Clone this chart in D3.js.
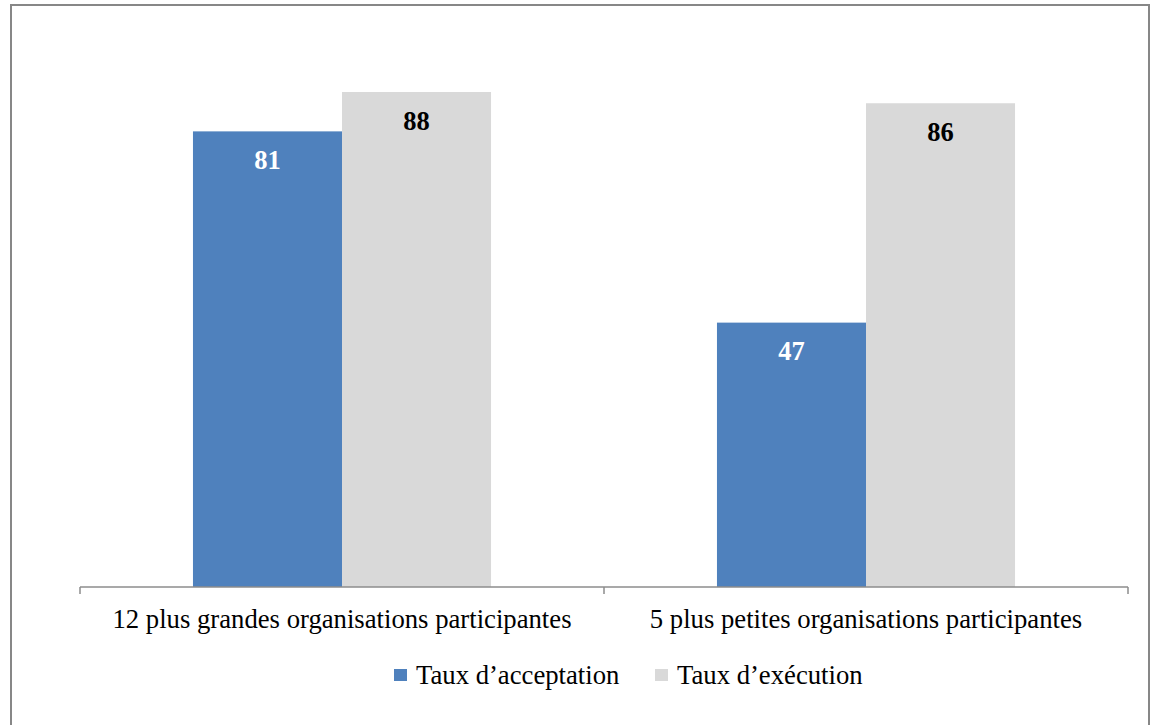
<!DOCTYPE html>
<html>
<head>
<meta charset="utf-8">
<script src="https://cdn.jsdelivr.net/npm/d3@7"></script>
<style>
  body { margin: 0; background: #fff; }
  svg { display: block; }
</style>
</head>
<body>
<svg id="chart"></svg>
<script>
// data
const categories = ['12 plus grandes organisations participantes', '5 plus petites organisations participantes'];
const seriesNames = ['Taux d\u2019acceptation', 'Taux d\u2019ex\u00e9cution'];
const acceptation = [81, 47];
const execution = [88, 86];
const seriesColors = ['#4F81BD', '#D9D9D9'];
const labelColors = ['#ffffff', '#000000'];

const W = 1152, H = 725;
const margin = { top: 24.5, right: 24, bottom: 138, left: 80 };
const font = '"Liberation Serif", "Times New Roman", serif';

const svg = d3.select('#chart').attr('width', W).attr('height', H);

// outer frame
svg.append('rect')
  .attr('x', 11).attr('y', 5)
  .attr('width', 1138).attr('height', 740)
  .attr('fill', '#fff')
  .attr('stroke', '#878787')
  .attr('stroke-width', 2);

const x0 = d3.scaleBand()
  .domain(categories)
  .range([margin.left, W - margin.right])
  .paddingInner(0).paddingOuter(0);

const x1 = d3.scaleBand()
  .domain(seriesNames)
  .range([0, x0.bandwidth()])
  .paddingInner(0).paddingOuter(0.758);

const y = d3.scaleLinear().domain([0, 100]).range([H - margin.bottom, margin.top]);

const rows = categories.map((c, i) => ({
  cat: c,
  vals: [
    { s: seriesNames[0], v: acceptation[i], k: 0 },
    { s: seriesNames[1], v: execution[i], k: 1 },
  ],
}));

const groups = svg.selectAll('.grp').data(rows).enter().append('g')
  .attr('class', 'grp')
  .attr('transform', d => `translate(${x0(d.cat)},0)`);

groups.selectAll('rect').data(d => d.vals).enter().append('rect')
  .attr('x', d => x1(d.s))
  .attr('y', d => y(d.v))
  .attr('width', x1.bandwidth())
  .attr('height', d => y(0) - y(d.v))
  .attr('fill', d => seriesColors[d.k]);

groups.selectAll('text.val').data(d => d.vals).enter().append('text')
  .attr('class', 'val')
  .attr('x', d => x1(d.s) + x1.bandwidth() / 2)
  .attr('y', d => y(d.v) + 37.5)
  .attr('text-anchor', 'middle')
  .attr('font-family', font)
  .attr('font-weight', 'bold')
  .attr('font-size', 26.5)
  .attr('fill', d => labelColors[d.k])
  .text(d => d.v);

// x axis
const axis = svg.append('g').attr('transform', `translate(0,${y(0)})`);
axis.append('line')
  .attr('x1', margin.left).attr('x2', W - margin.right)
  .attr('y1', 0).attr('y2', 0)
  .attr('stroke', '#8c8c8c').attr('stroke-width', 1.5);
const tickPos = [margin.left].concat(categories.map(c => x0(c) + x0.bandwidth()));
axis.selectAll('.tk').data(tickPos).enter().append('line')
  .attr('x1', d => d).attr('x2', d => d)
  .attr('y1', 0).attr('y2', 7)
  .attr('stroke', '#8c8c8c').attr('stroke-width', 1.5);
axis.selectAll('.cl').data(categories).enter().append('text')
  .attr('x', d => x0(d) + x0.bandwidth() / 2)
  .attr('y', 41)
  .attr('text-anchor', 'middle')
  .attr('font-family', font)
  .attr('font-size', 26.7)
  .attr('fill', '#000')
  .text(d => d);

// legend
const legendX = [394, 655];
const legend = svg.selectAll('.lg').data(seriesNames).enter().append('g')
  .attr('transform', (d, i) => `translate(${legendX[i]},669)`);
legend.append('rect')
  .attr('width', 13).attr('height', 12)
  .attr('fill', (d, i) => seriesColors[i]);
legend.append('text')
  .attr('x', 22).attr('y', 15)
  .attr('font-family', font)
  .attr('font-size', 26.7)
  .attr('fill', '#000')
  .text(d => d);
</script>
</body>
</html>
